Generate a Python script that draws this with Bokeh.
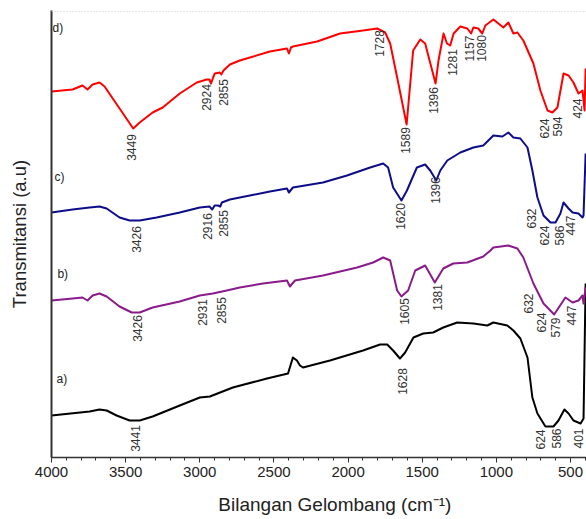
from math import pi
from bokeh.plotting import figure
from bokeh.models import Range1d, FixedTicker, Span
from bokeh.core.properties import value
from bokeh.embed import file_html
from bokeh.resources import INLINE

# ---- spectra (wavenumber cm-1, transmittance a.u. with vertical offsets) ----
d_wn = [4000, 3858, 3791, 3757, 3723, 3676, 3642, 3449, 3405, 3318, 3250, 3135, 3020,
        2953, 2935, 2924, 2910, 2899, 2865, 2855, 2840, 2797, 2730, 2662, 2527, 2412,
        2399, 2385, 2372, 2338, 2209, 2054, 1899, 1804, 1750, 1716, 1669, 1605, 1561,
        1513, 1480, 1410, 1390, 1356, 1333, 1311, 1288, 1243, 1196, 1170, 1155, 1122,
        1095, 1074, 1020, 986, 953, 919, 885, 858, 818, 750, 703, 655, 622, 588, 547,
        513, 480, 446, 419, 405, 398]
d_t = [366, 368, 372, 368, 373, 375, 371, 329, 335, 345, 350, 364, 375,
       378, 378, 374, 380, 384, 385, 383, 387, 393, 397, 400, 406, 409,
       404, 410, 411, 412, 416, 424, 427, 429, 425, 414, 380, 333, 407,
       418, 414, 374, 397, 424, 414, 412, 424, 431, 429, 424, 430, 429,
       424, 432, 438, 434, 430, 435, 424, 425, 417, 394, 367, 347, 345, 350, 384,
       382, 375, 364, 367, 347, 389]

c_wn = [4000, 3858, 3743, 3676, 3628, 3541, 3473, 3405, 3291, 3135, 3000, 2935, 2916,
        2900, 2878, 2862, 2851, 2797, 2730, 2662, 2527, 2412, 2399, 2372, 2169, 2007,
        1851, 1763, 1730, 1696, 1640, 1603, 1536, 1480, 1446, 1405, 1378, 1331, 1243,
        1155, 1088, 1054, 1020, 959, 919, 885, 838, 790, 757, 723, 682, 635, 601, 568,
        547, 513, 486, 446, 419, 412, 398]
c_t = [245, 248, 250, 251, 249, 240, 237, 237, 240, 245, 250, 251, 248,
       252, 252, 251, 255, 258, 260, 262, 266, 269, 265, 270, 275, 282,
       290, 294, 290, 270, 257, 267, 290, 293, 287, 277, 287, 297, 305,
       310, 312, 317, 322, 321, 325, 320, 319, 310, 287, 260, 242, 235, 235, 244,
       255, 249, 245, 244, 240, 242, 304]

b_wn = [4000, 3858, 3791, 3757, 3723, 3676, 3628, 3541, 3459, 3405, 3318, 3135, 3000,
        2912, 2818, 2730, 2574, 2412, 2392, 2358, 2169, 1939, 1831, 1763, 1716, 1669,
        1640, 1595, 1547, 1480, 1415, 1358, 1291, 1196, 1088, 1040, 1020, 919, 858,
        818, 750, 682, 610, 579, 534, 486, 446, 419, 412, 398]
b_t = [157, 159, 160, 157, 162, 164, 161, 151, 145, 145, 150, 156, 162,
       164, 167, 170, 174, 177, 171, 177, 182, 190, 195, 200, 197, 167,
       161, 167, 187, 192, 175, 189, 194, 195, 201, 207, 210, 212, 209,
       200, 174, 154, 143, 150, 160, 155, 157, 162, 154, 170]

a_wn = [4000, 3743, 3676, 3628, 3561, 3473, 3405, 3318, 3135, 3000, 2932, 2777, 2547,
        2405, 2372, 2345, 2324, 2304, 2122, 1899, 1784, 1736, 1696, 1650, 1615, 1559,
        1493, 1426, 1358, 1264, 1155, 1061, 1020, 926, 885, 838, 790, 757, 723, 669,
        615, 581, 541, 513, 480, 432, 412, 398]
a_t = [42, 46, 48, 47, 42, 37, 37, 41, 52, 60, 61, 70, 79,
       84, 100, 97, 92, 90, 97, 107, 113, 113, 107, 99, 105, 120,
       124, 125, 130, 135, 134, 132, 135, 132, 127, 119, 100, 60, 44, 31,
       31, 37, 48, 44, 37, 34, 39, 174]

# ---- peak annotations ----
peak_text = ["3449", "2924", "2855", "1728", "1589", "1396", "1281", "1157", "1080", "624", "594", "424",
             "3426", "2916", "2855", "1620", "1396", "632", "624", "586", "447",
             "3426", "2931", "2855", "1605", "1381", "632", "624", "579", "447",
             "3441", "1628", "624", "586", "401"]
peak_x = [3459, 2953, 2838, 1791, 1615, 1426, 1297, 1182, 1101, 676, 588, 450,
          3426, 2946, 2838, 1649, 1412, 763, 676, 574, 500,
          3419, 2980, 2851, 1622, 1399, 784, 696, 601, 493,
          3432, 1635, 703, 595, 446]
peak_y = [310, 360, 365, 414, 317, 357, 395, 409, 409, 329, 331, 349,
          218, 231, 234, 241, 267, 239, 222, 222, 232,
          129, 145, 147, 146, 160, 154, 135, 130, 142,
          19, 76, 18, 19, 19]

series_text = ["a)", "b)", "c)", "d)"]
series_x = [3966, 3960, 3980, 3993]
series_y = [79, 184, 281, 430]

x_ticks = [4000, 3500, 3000, 2500, 2000, 1500, 1000, 500]
x_minor = list(range(400, 4001, 100))

FONT = "Liberation Sans"

p = figure(width=586, height=519, x_range=Range1d(4000, 392), y_range=Range1d(0, 447),
           output_backend="svg", toolbar_location=None,
           min_border_left=51, min_border_right=0, min_border_top=10, min_border_bottom=62)
p.outline_line_color = None
p.xgrid.visible = False
p.ygrid.visible = False

for wn, t, col in [(a_wn, a_t, "#000000"), (b_wn, b_t, "#8b1a8b"),
                   (c_wn, c_t, "#0d0d8a"), (d_wn, d_t, "#ff0000")]:
    p.line(wn, t, line_color=col, line_width=2, line_join="round")

p.text(x=peak_x, y=peak_y, text=peak_text, angle=pi / 2, text_align="center",
       text_baseline="middle", text_font=value(FONT), text_font_size="12px",
       text_color="#333333")
p.text(x=series_x, y=series_y, text=series_text, text_align="left",
       text_baseline="middle", text_font=value(FONT), text_font_size="12px",
       text_color="#222222")

p.add_layout(Span(location=446, dimension="width", line_color="#cccccc",
                  line_dash="1 2", line_width=1))

xa = p.xaxis[0]
xa.ticker = FixedTicker(ticks=x_ticks, minor_ticks=x_minor)
xa.major_tick_out = 5
xa.major_tick_in = 0
xa.minor_tick_out = 3
xa.minor_tick_in = 0
xa.axis_line_width = 1.5
xa.axis_line_color = "#333333"
xa.major_tick_line_color = "#333333"
xa.minor_tick_line_color = "#333333"
xa.major_label_text_font = FONT
xa.major_label_text_font_size = "15px"
xa.major_label_text_color = "#222222"
xa.major_label_standoff = 4
# leading no-break spaces shift the centred label a little to the right, as in the original
xa.axis_label = "\u00a0" * 6 + "Bilangan Gelombang (cm\u207b\u00b9)"
xa.axis_label_text_font = FONT
xa.axis_label_text_font_size = "19px"
xa.axis_label_text_font_style = "normal"
xa.axis_label_text_color = "#222222"
xa.axis_label_standoff = 14

ya = p.yaxis[0]
ya.ticker = FixedTicker(ticks=[])
ya.major_tick_line_color = None
ya.minor_tick_line_color = None
ya.major_label_text_font_size = "0px"
ya.axis_line_width = 2
ya.axis_line_color = "#333333"
ya.axis_label = "Transmitansi (a.u)"
ya.axis_label_text_font = FONT
ya.axis_label_text_font_size = "18.5px"
ya.axis_label_text_font_style = "normal"
ya.axis_label_text_color = "#222222"
ya.axis_label_standoff = 22

open("out.html", "w").write(file_html(p, INLINE))
